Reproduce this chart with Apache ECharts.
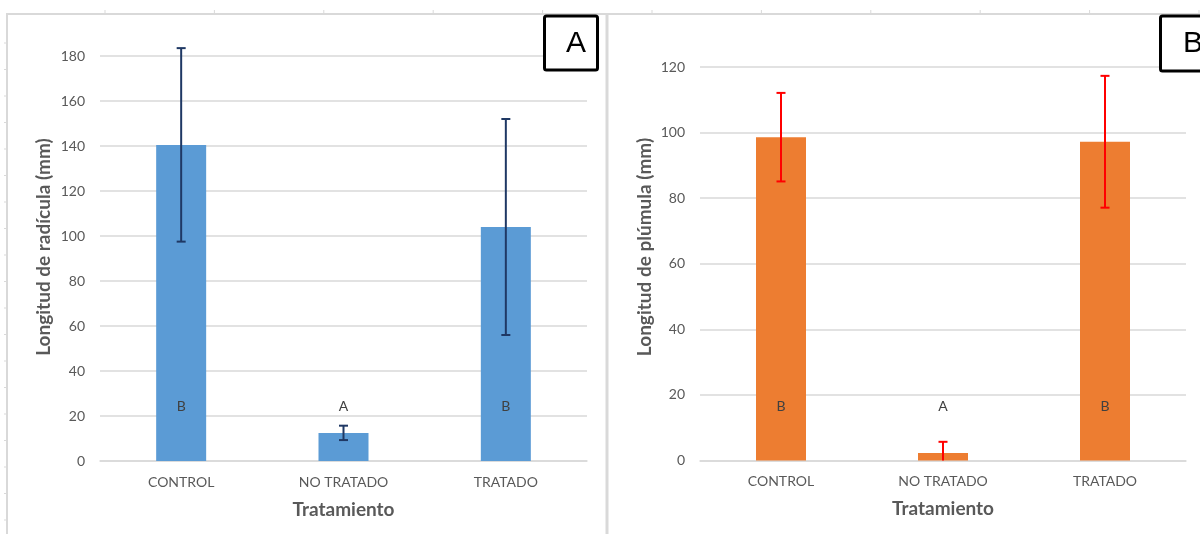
<!DOCTYPE html>
<html>
<head>
<meta charset="utf-8">
<script src="https://cdn.jsdelivr.net/npm/echarts@6/dist/echarts.min.js"></script>
<style>
html,body{margin:0;padding:0;background:#fff;}
#chart{width:1200px;height:534px;}
</style>
</head>
<body>
<div id="chart"></div>
<script>
// ---- data ----
var categories = ['CONTROL', 'NO TRATADO', 'TRATADO'];
var radiculaMean = [140.5, 12.5, 104];
var radiculaErr = [43, 3.2, 48];
var radiculaLetters = ['B', 'A', 'B'];
var radiculaLetterPos = 24.4;
var plumulaMean = [98.6, 2.3, 97.2];
var plumulaErr = [13.5, 3.4, 20.1];
var plumulaLetters = ['B', 'A', 'B'];
var plumulaLetterPos = 16.6;
var radiculaAxis = {min: 0, max: 180, interval: 20};
var plumulaAxis = {min: 0, max: 120, interval: 20};
var xTitle = 'Tratamiento';
var yTitleA = 'Longitud de radícula (mm)';
var yTitleB = 'Longitud de plúmula (mm)';

var FONT = 'Lato, "Open Sans", sans-serif';
var chart = echarts.init(document.getElementById('chart'), null, {renderer: 'canvas'});

function errData(mean, err) {
  return mean.map(function (m, i) { return [i, m - err[i], m + err[i]]; });
}
function letterData(letters, pos) {
  return letters.map(function (l, i) { return [i, pos, l]; });
}
function errRenderer(color) {
  return function (params, api) {
    var i = api.value(0);
    var lo = api.value(1), hi = api.value(2);
    var clippedLo = Math.max(lo, 0);
    var top = api.coord([i, hi]);
    var bot = api.coord([i, clippedLo]);
    var half = 4.5;
    var children = [
      {type: 'line', shape: {x1: top[0], y1: top[1], x2: bot[0], y2: bot[1]}, style: {stroke: color, lineWidth: 2}},
      {type: 'line', shape: {x1: top[0] - half, y1: top[1], x2: top[0] + half, y2: top[1]}, style: {stroke: color, lineWidth: 2}}
    ];
    if (lo >= 0) {
      children.push({type: 'line', shape: {x1: bot[0] - half, y1: bot[1], x2: bot[0] + half, y2: bot[1]}, style: {stroke: color, lineWidth: 2}});
    }
    return {type: 'group', children: children};
  };
}
function letterRenderer(params, api) {
  var p = api.coord([api.value(0), api.value(1)]);
  return {type: 'text', x: p[0], y: p[1], style: {text: api.value(2), fill: '#404040', font: '14px ' + FONT, align: 'center', verticalAlign: 'middle'}};
}

// decorative sheet-frame graphics
var deco = [];
var frameStyle = {stroke: '#D9D9D9', lineWidth: 2};
deco.push({type: 'line', shape: {x1: 7, y1: 14, x2: 7, y2: 534}, style: frameStyle, silent: true});
deco.push({type: 'line', shape: {x1: 6, y1: 14, x2: 1200, y2: 14}, style: frameStyle, silent: true});
deco.push({type: 'line', shape: {x1: 607, y1: 14, x2: 607, y2: 534}, style: {stroke: '#D9D9D9', lineWidth: 3}, silent: true});
for (var k = 0; k < 11; k++) {
  var tx = 105 + k * 109.4;
  deco.push({type: 'line', shape: {x1: tx, y1: 10, x2: tx, y2: 14}, style: {stroke: '#D9D9D9', lineWidth: 1}, silent: true});
}
for (var j = 0; j < 19; j++) {
  var ty = 520 - j * 26.5;
  deco.push({type: 'line', shape: {x1: 4, y1: ty, x2: 7, y2: ty}, style: {stroke: '#D9D9D9', lineWidth: 1}, silent: true});
}
// y-axis titles (centred on the chart area, as in the original)
var yTitleStyle = {fill: '#595959', font: 'bold 19px ' + FONT, align: 'center', verticalAlign: 'middle'};
deco.push({type: 'text', x: 44, y: 247, rotation: Math.PI / 2, style: Object.assign({text: yTitleA}, yTitleStyle)});
deco.push({type: 'text', x: 645, y: 247, rotation: Math.PI / 2, style: Object.assign({text: yTitleB}, yTitleStyle)});
// panel labels
deco.push({type: 'rect', shape: {x: 544.5, y: 16, width: 53, height: 54, r: 2}, style: {fill: '#fff', stroke: '#000', lineWidth: 3}, z: 10});
deco.push({type: 'text', x: 576, y: 44, style: {text: 'A', fill: '#000', font: '30px "Liberation Sans", Arial, sans-serif', align: 'center', verticalAlign: 'middle'}, z: 11});
deco.push({type: 'rect', shape: {x: 1160.5, y: 16, width: 53, height: 55, r: 2}, style: {fill: '#fff', stroke: '#000', lineWidth: 3}, z: 10});
deco.push({type: 'text', x: 1193, y: 44, style: {text: 'B', fill: '#000', font: '30px "Liberation Sans", Arial, sans-serif', align: 'center', verticalAlign: 'middle'}, z: 11});

function xAxis(gi) {
  return {
    type: 'category', gridIndex: gi, data: categories,
    axisLine: {show: true, lineStyle: {color: '#D9D9D9', width: 1.5}},
    axisTick: {show: false},
    axisLabel: {color: '#595959', fontSize: 14, fontFamily: FONT, margin: 14},
    name: xTitle, nameLocation: 'middle', nameGap: 39,
    nameTextStyle: {color: '#595959', fontSize: 19, fontWeight: 'bold', fontFamily: FONT}
  };
}
function yAxis(gi, ax) {
  return {
    type: 'value', gridIndex: gi, min: ax.min, max: ax.max, interval: ax.interval,
    axisLine: {show: false}, axisTick: {show: false},
    splitLine: {lineStyle: {color: '#D9D9D9', width: 1.5}},
    axisLabel: {color: '#595959', fontSize: 14, fontFamily: FONT, margin: 15}
  };
}

var option = {
  backgroundColor: '#fff',
  animation: false,
  graphic: deco,
  grid: [
    {left: 100, right: 613, top: 56, bottom: 73},
    {left: 700, right: 14, top: 67, bottom: 73.5}
  ],
  xAxis: [xAxis(0), xAxis(1)],
  yAxis: [yAxis(0, radiculaAxis), yAxis(1, plumulaAxis)],
  series: [
    {type: 'bar', xAxisIndex: 0, yAxisIndex: 0, data: radiculaMean, barWidth: 50, itemStyle: {color: '#5B9BD5'}},
    {type: 'custom', xAxisIndex: 0, yAxisIndex: 0, data: errData(radiculaMean, radiculaErr), renderItem: errRenderer('#1F3864'), clip: false, z: 5},
    {type: 'custom', xAxisIndex: 0, yAxisIndex: 0, data: letterData(radiculaLetters, radiculaLetterPos), renderItem: letterRenderer, z: 6},
    {type: 'bar', xAxisIndex: 1, yAxisIndex: 1, data: plumulaMean, barWidth: 50, itemStyle: {color: '#ED7D31'}},
    {type: 'custom', xAxisIndex: 1, yAxisIndex: 1, data: errData(plumulaMean, plumulaErr), renderItem: errRenderer('#FF0000'), clip: false, z: 5},
    {type: 'custom', xAxisIndex: 1, yAxisIndex: 1, data: letterData(plumulaLetters, plumulaLetterPos), renderItem: letterRenderer, z: 6}
  ]
};
chart.setOption(option);
</script>
</body>
</html>
